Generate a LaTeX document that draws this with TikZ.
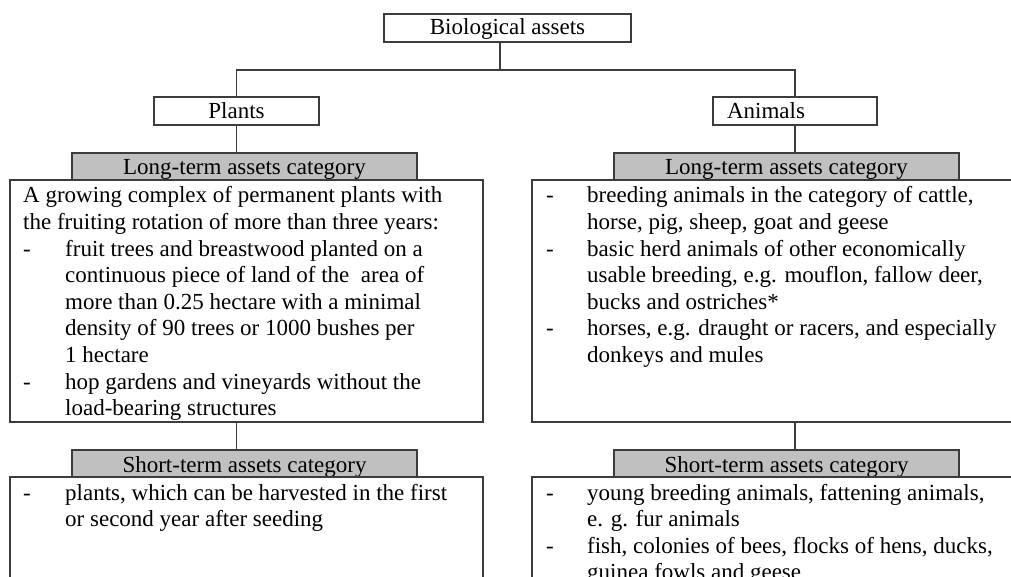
\documentclass[tikz,border=0pt]{standalone}
\usepackage{fontspec}
\setmainfont{Liberation Serif}
\definecolor{catgray}{RGB}{192,192,192}
\definecolor{linecol}{RGB}{60,60,60}
\newcommand\bodyfont{\fontsize{23}{26.6}\selectfont}
\tikzset{
  ln/.style={draw=linecol, line width=1.1pt},
  titlebox/.style={ln, fill=white, inner xsep=0pt, inner ysep=0pt, minimum height=28pt, text height=21pt, text depth=7pt, font=\bodyfont},
  catbox/.style={ln, fill=catgray, inner ysep=0pt, minimum height=27pt, text height=22pt, text depth=5pt, minimum width=345pt, font=\bodyfont},
  contentbox/.style={ln, fill=white, inner sep=0pt},
  conn/.style={draw=linecol, line width=1.1pt},
  txt/.style={anchor=base west, inner sep=0pt, font=\bodyfont}
}
\begin{document}
\begin{tikzpicture}[x=1pt,y=-1pt]
\useasboundingbox (0,0) rectangle (1011,577);
\clip (0,0) rectangle (1011,577);
% top level
\node[titlebox, minimum width=247pt] (root) at (507.5,28) {Biological assets};
\node[titlebox, minimum width=165pt, text height=22pt, text depth=6pt] (plants) at (236.5,111) {Plants};
\node[titlebox, text width=136pt, align=left, inner xsep=14pt, text height=22pt, text depth=6pt] (animals) at (795,111) {Animals};
\coordinate (j) at (500,70);
\draw[conn] (root.south -| j) -- (j);
\draw[conn] (plants.north) |- (j) -| (animals.north);
% category headers
\node[catbox] (lt1) at (244.5,166.5) {Long-term assets category};
\node[catbox] (lt2) at (786.5,166.5) {Long-term assets category};
\node[catbox] (st1) at (244.5,463.5) {Short-term assets category};
\node[catbox] (st2) at (786.5,463.5) {Short-term assets category};
% content boxes
\node[contentbox, minimum width=473pt, minimum height=242pt] (c1) at (246.5,301) {};
\node[contentbox, minimum width=509pt, minimum height=242pt] (c2) at (786.5,301) {};
\node[contentbox, minimum width=473pt, minimum height=130pt] (c3) at (246.5,542) {};
\node[contentbox, minimum width=509pt, minimum height=130pt] (c4) at (786.5,542) {};
% connectors
\draw[conn] (plants.south) -- (plants.south |- lt1.north);
\draw[conn] (animals.south) -- (animals.south |- lt2.north);
\draw[conn] (plants.south |- c1.south) -- (plants.south |- st1.north);
\draw[conn] (animals.south |- c2.south) -- (animals.south |- st2.north);
% texts
\node[txt] (t1) at (23,203) {\begin{tabular}[t]{@{}p{42pt}@{}l@{}}
\multicolumn{2}{@{}l@{}}{A growing complex of permanent plants with}\\
\multicolumn{2}{@{}l@{}}{the fruiting rotation of more than three years:}\\
- & fruit trees and breastwood planted on a\\
  & continuous piece of land of the\ \ area of\\
  & more than 0.25 hectare with a minimal\\
  & density of 90 trees or 1000 bushes per\\
  & 1 hectare\\
- & hop gardens and vineyards without the\\
  & load-bearing structures
\end{tabular}};
\node[txt] (t2) at (546,203) {\begin{tabular}[t]{@{}p{41pt}@{}l@{}}
- & breeding animals in the category of cattle,\\
  & horse, pig, sheep, goat and geese\\
- & basic herd animals of other economically\\
  & usable breeding, e.g. mouflon, fallow deer,\\
  & bucks and ostriches*\\
- & horses, e.g. draught or racers, and especially\\
  & donkeys and mules
\end{tabular}};
\node[txt] (t3) at (23,500) {\begin{tabular}[t]{@{}p{42pt}@{}l@{}}
- & plants, which can be harvested in the first\\
  & or second year after seeding
\end{tabular}};
\node[txt] (t4) at (546,500) {\begin{tabular}[t]{@{}p{41pt}@{}l@{}}
- & young breeding animals, fattening animals,\\
  & e. g. fur animals\\
- & fish, colonies of bees, flocks of hens, ducks,\\
  & guinea fowls and geese
\end{tabular}};
\end{tikzpicture}
\end{document}
